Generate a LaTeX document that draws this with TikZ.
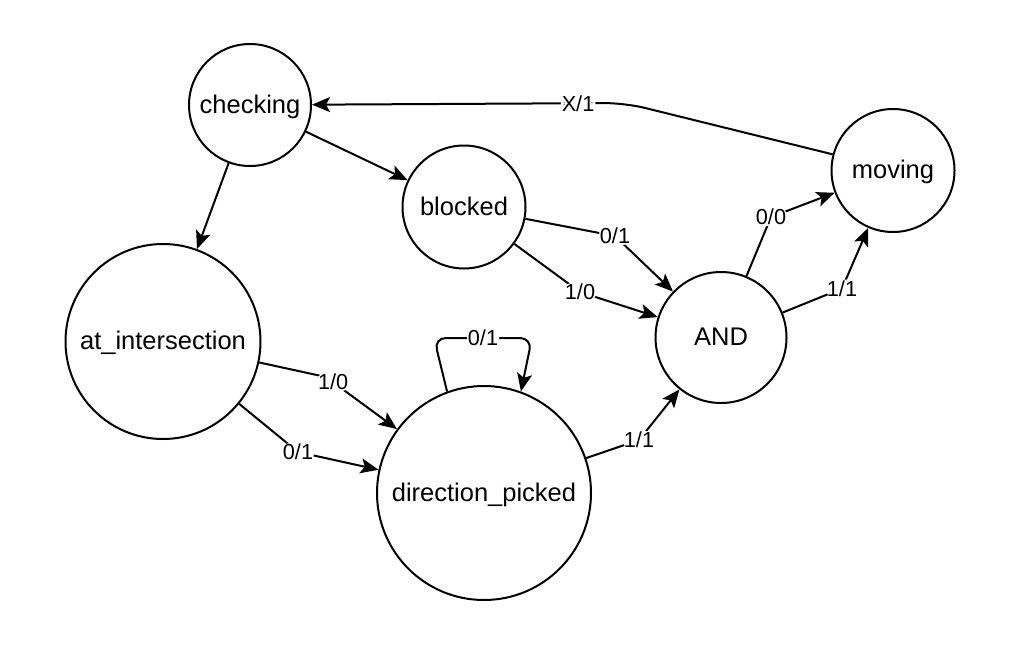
\documentclass[tikz,border=0pt]{standalone}
\usepackage{fontspec}
\setmainfont{Liberation Sans}
\usetikzlibrary{arrows.meta}

\begin{document}
\begin{tikzpicture}[x=1pt,y=-1pt,
  state/.style={draw,circle,line width=2pt,inner sep=0pt,text height=19pt,text depth=3pt,font=\fontsize{25.5}{30}\selectfont},
  tr/.style={-{Stealth[length=18pt,width=15pt,inset=4pt]},line width=2pt,rounded corners=8pt},
  lbl/.style={fill=white,inner sep=1pt,font=\fontsize{21.7}{26}\selectfont}
]
\useasboundingbox (0,0) rectangle (1012,649);
% States
\node[state,minimum size=122pt] (checking) at (250,105) {checking};
\node[state,minimum size=123pt] (blocked) at (464,207) {blocked};
\node[state,minimum size=195pt] (atint) at (163,341.5) {at\_intersection};
\node[state,minimum size=214pt] (dp) at (484,493) {direction\_picked};
\node[state,minimum size=131pt] (and) at (721,337.5) {AND};
\node[state,minimum size=123pt] (moving) at (893,170.5) {moving};

% Transitions
\draw[tr] (checking) -- (blocked);
\draw[tr] (checking) -- (atint);
\draw[tr] (blocked) -- (615,236) node[lbl]{0/1} -- (and);
\draw[tr] (blocked) -- (580,292) node[lbl]{1/0} -- (and);
\draw[tr] (atint) -- (326,377) -- node[lbl,pos=0.1]{1/0} (dp);
\draw[tr] (atint) -- (298,452) node[lbl]{0/1} -- (dp);
\draw[tr,rounded corners=12pt] (dp.110) -- (434,338) -- node[lbl]{0/1} (532,338) -- (dp.70);
\draw[tr] (dp) -- (639,440) node[lbl]{1/1} -- (and);
\draw[tr] (and) -- (771,217) node[lbl]{0/0} -- (moving);
\draw[tr] (and) -- (842,288.5) node[lbl]{1/1} -- (moving);
\draw[tr,rounded corners=20pt] (moving.165) -- (625,103) -- node[lbl,pos=0.15]{X/1} (checking);
\end{tikzpicture}
\end{document}
